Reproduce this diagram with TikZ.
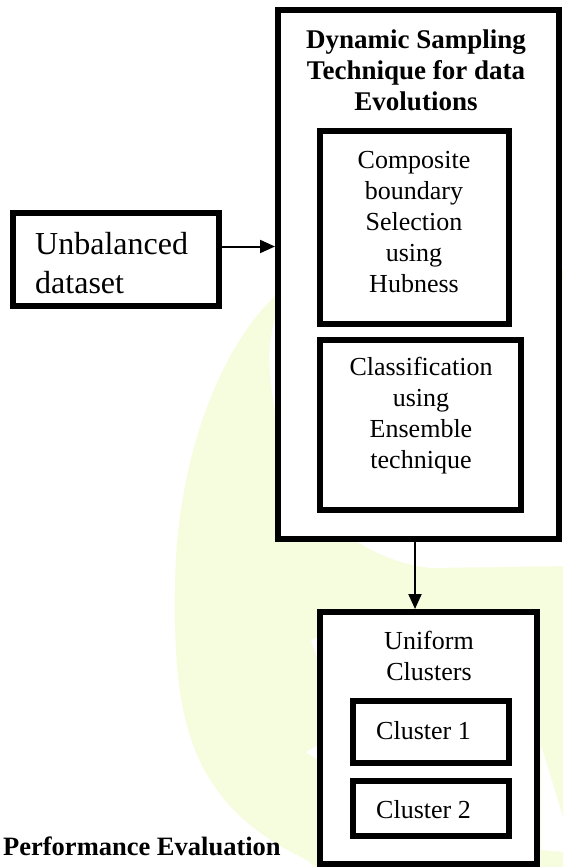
\documentclass[tikz,border=0pt]{standalone}
\usepackage{fontspec}
\setmainfont{Liberation Serif}
\usetikzlibrary{calc,arrows.meta}
\definecolor{wmyellow}{RGB}{246,252,222}

\begin{document}
\begin{tikzpicture}[x=1pt,y=-1pt,
        box/.style={draw,line width=6pt,fill=white,inner sep=0pt},
        txt/.style={align=center,inner sep=0pt,font=\fontsize{26}{31}\selectfont},
        arr/.style={-{Triangle[length=15pt,width=13pt]},line width=2pt}]
        \useasboundingbox (0,0) rectangle (563,867);

        % faint watermark behind the boxes
        \begin{scope}
        \clip (0,0) rectangle (563,867);
        \fill[wmyellow] (300,270) -- (273,298) .. controls (215,355) and (175,470) .. (175,590)
            .. controls (173,720) and (190,805) .. (307,860) -- (325,875) -- (570,875) -- (570,270) -- cycle;
        \fill[white] (290,280) .. controls (270,320) and (268,350) .. (270,370)
            .. controls (275,470) and (330,555) .. (430,568) -- (570,566) -- (570,280) -- cycle;
        \fill[white] (311,641) -- (318,636) -- (318,660) -- cycle;
        \fill[white] (306,752) -- (318,745) -- (318,760) -- cycle;
        \fill[white] (541,745) -- (563,817) -- (563,852) -- (541,850) -- cycle;
        \end{scope}

        \node[box,minimum width=281pt,minimum height=529pt] (dyn) at (418.5,274.5) {};
        \node[txt,font=\bfseries\fontsize{27}{31}\selectfont] (dyntitle) at (416,70) {Dynamic Sampling\\Technique for data\\Evolutions};

        \node[box,minimum width=189pt,minimum height=193pt] (comp) at (414.5,227.5) {};
        \node[txt] (comptext) at (414,222.5) {Composite\\boundary\\Selection\\using\\Hubness};

        \node[box,minimum width=201pt,minimum height=170pt] (cls) at (420.5,425) {};
        \node[txt] (clstext) at (421,416) {Classification\\using\\Ensemble\\technique};

        \node[box,minimum width=206pt,minimum height=93pt] (unbal) at (116,259.5) {};
        \node[txt,align=left,anchor=west,font=\fontsize{32}{39}\selectfont] (unbaltext) at (35,263) {Unbalanced\\dataset};

        \node[box,minimum width=217pt,minimum height=252pt] (unif) at (428.5,738) {};
        \node[txt] (uniftext) at (429,655.5) {Uniform\\Clusters};

        \node[box,minimum width=156pt,minimum height=62pt] (cla) at (431,732) {};
        \node[txt,anchor=west] (clatext) at (376,731) {Cluster 1};
        \node[box,minimum width=156pt,minimum height=55pt] (clb) at (431,808.5) {};
        \node[txt,anchor=west] (clbtext) at (376,810) {Cluster 2};

        \node[anchor=base west,inner sep=0pt,font=\bfseries\fontsize{26.5}{31}\selectfont] (perf) at (3,855) {Performance Evaluation};

        \draw[arr] ($(unbal.east)+(0,-13)$) -- ($(unbal.east -| dyn.west)+(0,-13)$);
        \draw[arr] ($(dyn.south)+(-3.5,0)$) -- ($(dyn.south |- unif.north)+(-3.5,0)$);
    \end{tikzpicture}
\end{document}
